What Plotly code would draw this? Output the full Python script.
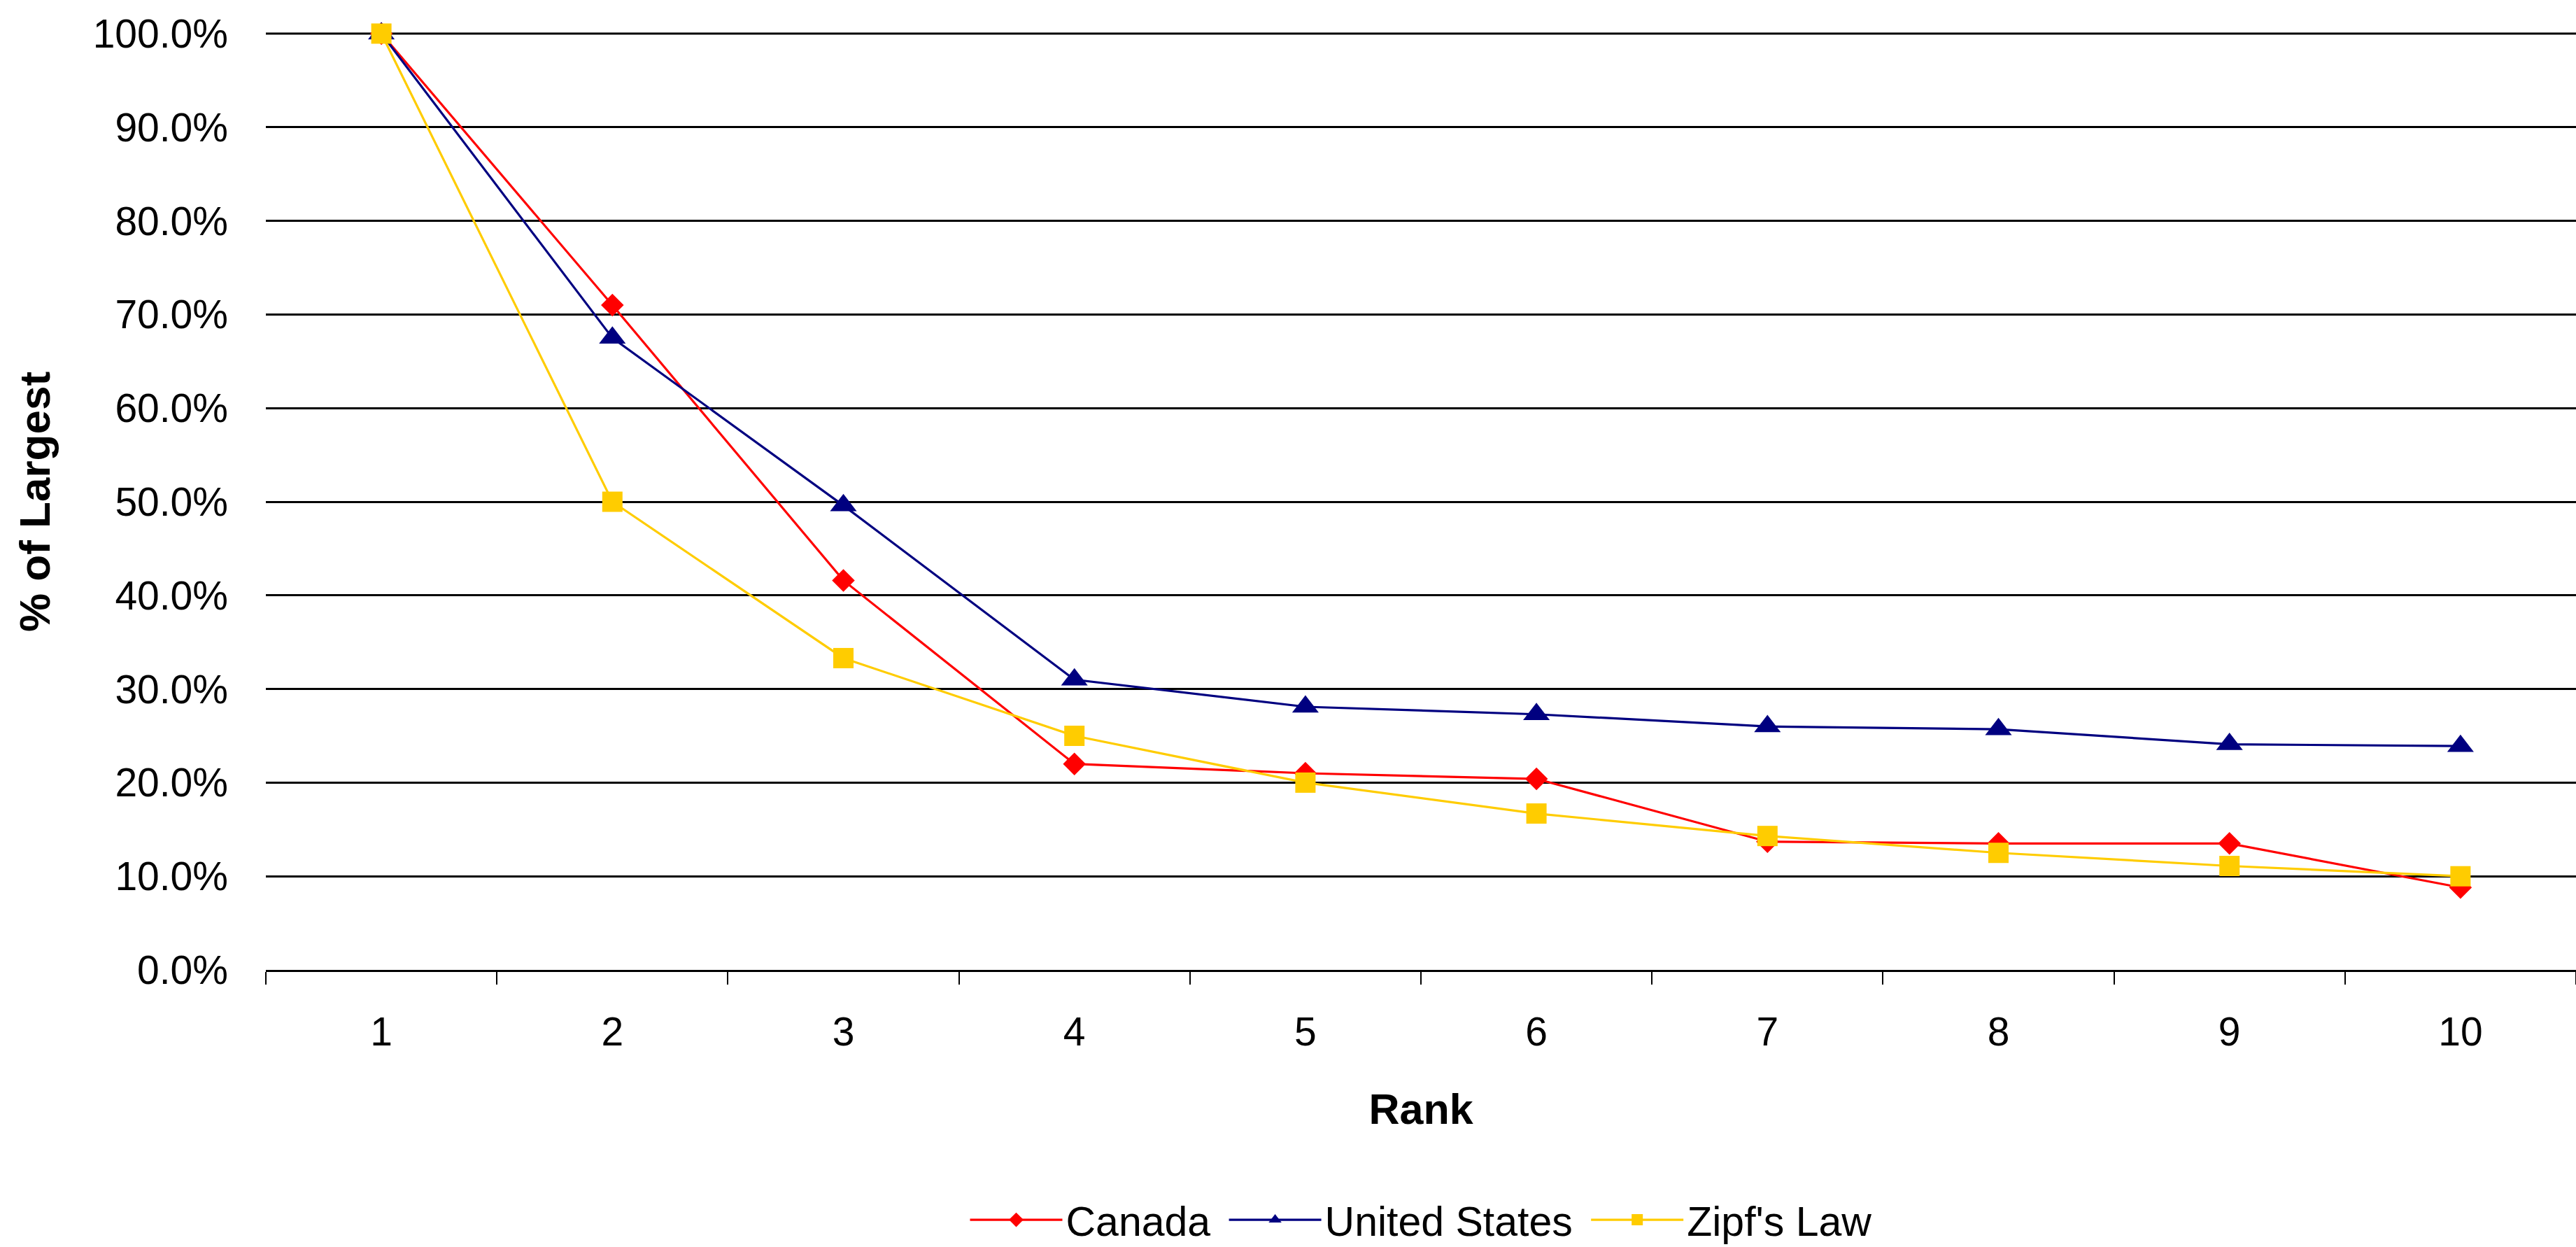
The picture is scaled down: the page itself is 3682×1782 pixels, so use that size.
import plotly.graph_objects as go

ranks = ["1", "2", "3", "4", "5", "6", "7", "8", "9", "10"]
canada = [1.000, 0.710, 0.416, 0.220, 0.210, 0.204, 0.137, 0.135, 0.135, 0.088]
united_states = [1.000, 0.675, 0.496, 0.310, 0.281, 0.273, 0.260, 0.257, 0.241, 0.239]
zipfs_law = [1.000, 0.500, 0.333, 0.250, 0.200, 0.167, 0.143, 0.125, 0.111, 0.100]
y_ticks = [0, 0.1, 0.2, 0.3, 0.4, 0.5, 0.6, 0.7, 0.8, 0.9, 1.0]

FONT = "Liberation Sans, Arial, sans-serif"
NBSP = "\u00a0"

fig = go.Figure()
fig.add_trace(go.Scatter(x=ranks, y=canada, name="Canada" + NBSP, mode="lines+markers",
                         line=dict(color="#FF0000", width=3.2),
                         marker=dict(symbol="diamond", size=25, color="#FF0000"),
                         cliponaxis=False))
fig.add_trace(go.Scatter(x=ranks, y=united_states, name="United States" + NBSP, mode="lines+markers",
                         line=dict(color="#000080", width=3.2),
                         marker=dict(symbol="triangle-up", size=33, color="#000080"),
                         cliponaxis=False))
fig.add_trace(go.Scatter(x=ranks, y=zipfs_law, name="Zipf's Law", mode="lines+markers",
                         line=dict(color="#FFCC00", width=3.2),
                         marker=dict(symbol="square", size=29, color="#FFCC00"),
                         cliponaxis=False))

# top gridline at 100% (plotly omits gridlines on the plot edge); paper refs avoid clipping
fig.add_shape(type="line", xref="paper", yref="paper", x0=0, x1=1, y0=1, y1=1,
              line=dict(color="black", width=3), layer="below")

fig.update_layout(
    width=3682, height=1782,
    margin=dict(l=380, r=0, t=48, b=396, autoexpand=False),
    paper_bgcolor="white", plot_bgcolor="white",
    font=dict(family=FONT, size=57, color="black"),
    showlegend=True,
    legend=dict(orientation="h", x=0.5, xanchor="center", y=-0.267, yanchor="middle",
                font=dict(size=59), itemwidth=132, bgcolor="rgba(0,0,0,0)",
                traceorder="normal"),
    xaxis=dict(type="category", range=[-0.5, 9.5], tickson="boundaries", ticks="outside",
               ticklen=18, tickwidth=2, tickcolor="black", showgrid=False, showline=True,
               linecolor="black", linewidth=3, zeroline=False,
               ticklabelstandoff=37,
               title=dict(text="<b>Rank</b>", font=dict(size=61), standoff=58)),
    yaxis=dict(range=[y_ticks[0], y_ticks[-1]], tickvals=y_ticks,
               tickformat=".1%", ticks="", showgrid=True, gridcolor="black", gridwidth=3,
               zeroline=False, showline=False, ticklabelstandoff=53,
               title=dict(text="<b>% of Largest</b>", font=dict(size=62), standoff=40)),
)

fig.write_html("out.html")
